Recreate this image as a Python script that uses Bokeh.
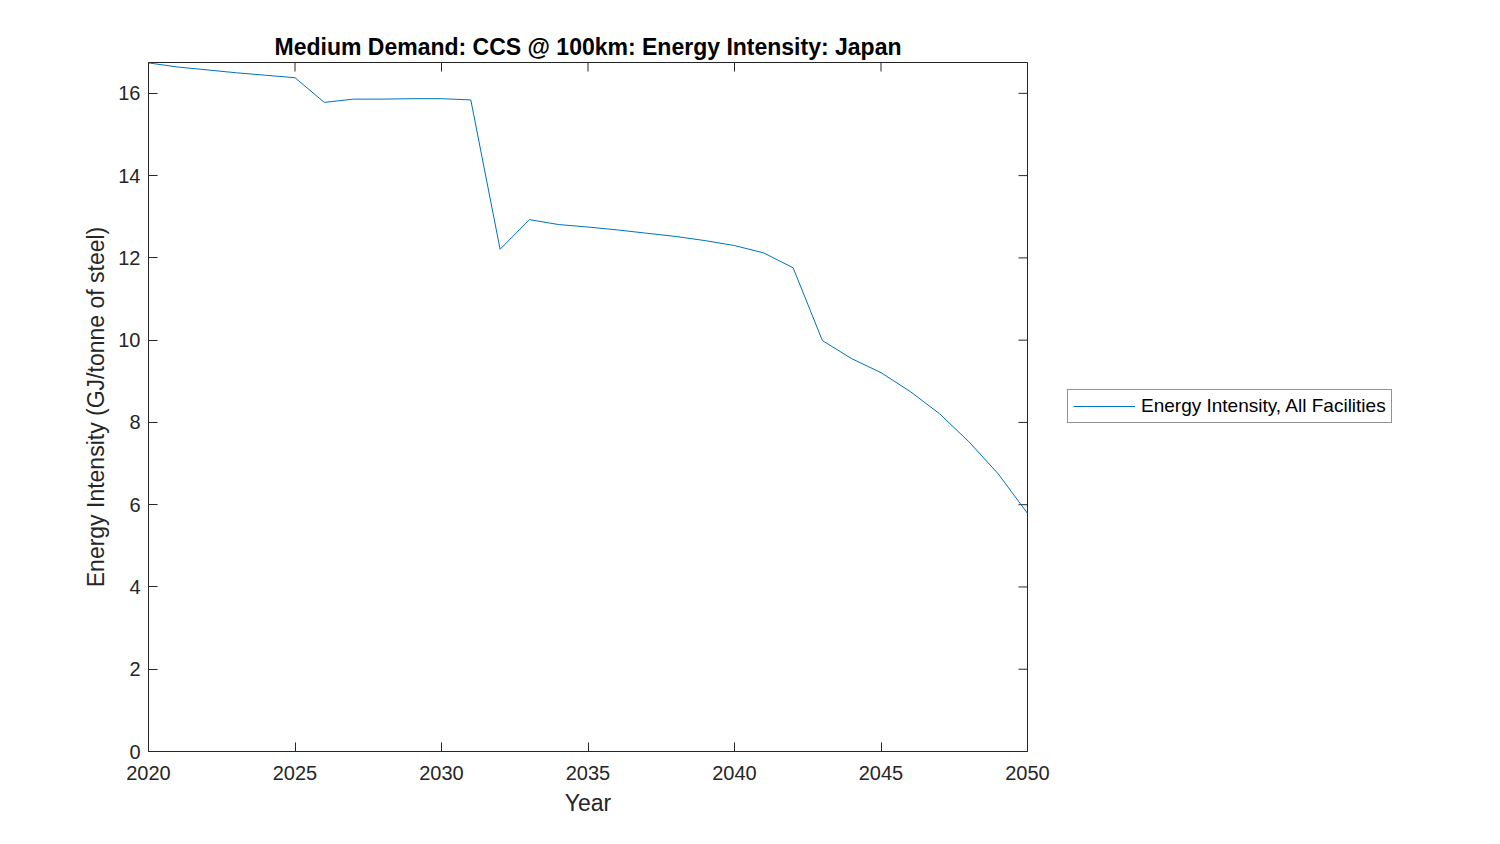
import math
from bokeh.plotting import figure
from bokeh.models import Range1d, FixedTicker, Legend, LegendItem
from bokeh.embed import file_html
from bokeh.resources import INLINE

years = list(range(2020, 2051))
intensity = [16.74, 16.64, 16.57, 16.50, 16.44, 16.38, 15.78, 15.86, 15.86, 15.87, 15.87,
             15.84, 12.21, 12.93, 12.81, 12.75, 12.68, 12.60, 12.52, 12.42, 12.30,
             12.12, 11.76, 9.99, 9.55, 9.21, 8.75, 8.21, 7.53, 6.75, 5.79]
x_ticks = [2020, 2025, 2030, 2035, 2040, 2045, 2050]
y_ticks = [0, 2, 4, 6, 8, 10, 12, 14, 16]
Y_MAX = 16.75

FONT = "Liberation Sans"
AX = "#262626"

p = figure(frame_width=879, frame_height=689, output_backend="svg", toolbar_location=None,
           x_range=Range1d(2020, 2050), y_range=Range1d(0, Y_MAX),
           min_border_left=148, min_border_right=20, min_border_top=62, min_border_bottom=77,
           x_axis_label="Year", y_axis_label="Energy Intensity (GJ/tonne of steel)",
           title="Medium Demand: CCS @ 100km: Energy Intensity: Japan")
p.grid.visible = False
p.outline_line_color = AX
p.outline_line_width = 1
p.background_fill_color = "white"

p.title.text_font = FONT
p.title.text_font_size = "23px"
p.title.text_font_style = "bold"
p.title.align = "center"
p.title.text_color = "black"
p.title.standoff = 5

for ax in (p.xaxis[0], p.yaxis[0]):
    ax.axis_line_color = AX
    ax.major_tick_line_color = AX
    ax.major_tick_in = 9
    ax.major_tick_out = 0
    ax.minor_tick_line_color = None
    ax.major_label_text_font = FONT
    ax.major_label_text_font_size = "20px"
    ax.major_label_text_color = AX
    ax.axis_label_text_font = FONT
    ax.axis_label_text_font_size = "23px"
    ax.axis_label_text_font_style = "normal"
    ax.axis_label_text_color = AX
p.xaxis[0].ticker = FixedTicker(ticks=x_ticks)
p.yaxis[0].ticker = FixedTicker(ticks=y_ticks)
p.xaxis[0].major_label_standoff = 14
p.xaxis[0].axis_label_standoff = 7
p.yaxis[0].major_label_standoff = 8
p.yaxis[0].axis_label_standoff = 6

# inward ticks on the top and right edges of the box (MATLAB style)
p.ray(x=x_ticks, y=[Y_MAX] * len(x_ticks), length=9, length_units="screen",
      angle=-math.pi / 2, line_color=AX, line_width=1)
p.ray(x=[2050] * len(y_ticks), y=y_ticks, length=9, length_units="screen",
      angle=math.pi, line_color=AX, line_width=1)

r = p.line(years, intensity, line_color="#0072BD", line_width=1)

legend = Legend(items=[LegendItem(label="Energy Intensity, All Facilities", renderers=[r])],
                location=(40, 328), orientation="vertical")
legend.label_text_font = FONT
legend.label_text_font_size = "19px"
legend.label_text_color = "black"
legend.glyph_width = 62
legend.glyph_height = 18
legend.label_standoff = 6
legend.padding = 5
legend.margin = 0
legend.spacing = 0
legend.border_line_color = AX
legend.border_line_width = 1
legend.label_height = 18
p.add_layout(legend, "right")

open("out.html", "w").write(file_html(p, INLINE))
